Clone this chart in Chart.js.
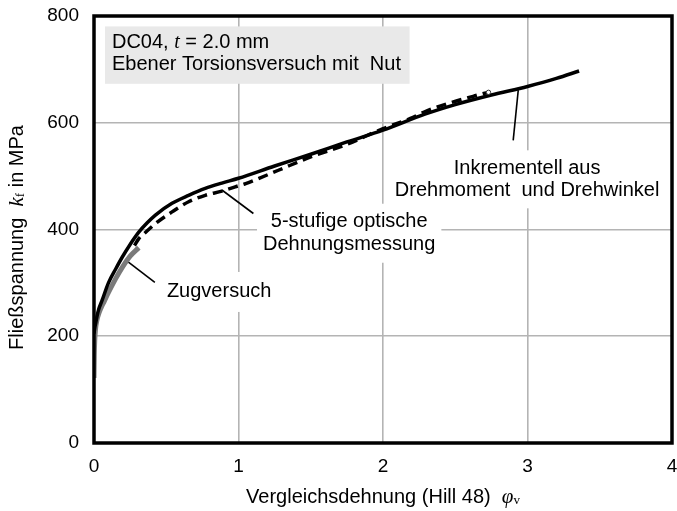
<!DOCTYPE html>
<html>
<head>
<meta charset="utf-8">
<script src="https://cdn.jsdelivr.net/npm/chart.js@4.4.1/dist/chart.umd.min.js"></script>
<style>
  html, body { margin: 0; padding: 0; background: #fff; overflow: hidden; }
  #wrap { width: 677px; height: 511px; position: relative; }
</style>
</head>
<body>
<div id="wrap"><canvas id="c"></canvas></div>
<script>
// Axis ticks
const xTicks = [0, 1, 2, 3, 4];
const yTicks = [0, 200, 400, 600, 800];

// Incremental evaluation from torque and twist angle (solid)
const incStrain = [0, 0.005, 0.012, 0.03, 0.057, 0.1, 0.15, 0.195, 0.25, 0.31, 0.37, 0.425, 0.54, 0.655, 0.77, 0.885, 1.0, 1.25, 1.5, 1.75, 2.0, 2.29, 2.5, 2.75, 3.0, 3.2, 3.357];
const incStress = [205, 215, 225, 248, 268, 300, 326, 348, 372, 395, 413, 427, 449, 464, 477, 487, 496, 519, 541, 564, 586, 616, 634, 652, 668, 683, 697];

// Five-step optical strain measurement (dashed)
const optStrain = [0.28, 0.31, 0.35, 0.425, 0.54, 0.655, 0.77, 0.885, 0.977, 1.05, 1.276, 1.5, 1.736, 2.0, 2.19, 2.3, 2.45, 2.63, 2.73];
const optStress = [370, 383, 393, 411, 433, 452, 464, 472, 480, 486, 511, 536, 558, 589, 608, 622, 636, 650, 657];

// Tensile test (grey)
const tenStrain = [0, 0.002, 0.005, 0.01, 0.02, 0.035, 0.05, 0.07, 0.1, 0.15, 0.2, 0.25, 0.31];
const tenStress = [122, 165, 192, 212, 230, 244, 254, 265, 282, 308, 331, 350, 366];

const SANS = '"Liberation Sans", Arial, sans-serif';
const SERIF = '"Liberation Serif", "Times New Roman", serif';

function toPoints(xs, ys) { return xs.map((x, i) => ({ x: x, y: ys[i] })); }

// Draw a run of differently styled text pieces on one baseline
function drawRuns(ctx, runs, x, y, align) {
  let total = 0;
  runs.forEach(r => { ctx.font = r.font; r.w = ctx.measureText(r.t).width; total += r.w; });
  let cx = align === 'center' ? x - total / 2 : (align === 'right' ? x - total : x);
  runs.forEach(r => {
    ctx.font = r.font;
    ctx.textAlign = 'left';
    ctx.textBaseline = 'middle';
    ctx.fillText(r.t, cx, y + (r.dy || 0));
    cx += r.w;
  });
}

// Curve labels: leader line from/to (data units), text centre (data units)
const curveLabels = [
  { lines: ['Zugversuch'], from: [0.218, 343], to: [0.421, 301], at: [0.866, 283], gap: 22, pad: [6, 20] },
  { lines: ['5-stufige optische', 'Dehnungsmessung'], from: [0.885, 474], to: [1.103, 430], at: [1.766, 393], gap: 23, pad: [6, 18] },
  { lines: ['Inkrementell aus', 'Drehmoment  und Drehwinkel'], from: [2.936, 661], to: [2.901, 567], at: [2.997, 494], gap: 22, pad: [6, 18] }
];

const decorations = {
  id: 'decorations',
  beforeDatasetsDraw(chart) {
    const ctx = chart.ctx, xs = chart.scales.x, ys = chart.scales.y;
    ctx.save();
    // info box
    const bx = xs.getPixelForValue(0.076), by = ys.getPixelForValue(780.5);
    const bx2 = xs.getPixelForValue(2.184), by2 = ys.getPixelForValue(673);
    ctx.fillStyle = '#e9e9e9';
    ctx.fillRect(bx, by, bx2 - bx, by2 - by);
    ctx.fillStyle = '#000';
    drawRuns(ctx, [
      { t: 'DC04, ', font: '20px ' + SANS },
      { t: 't', font: 'italic 20px ' + SERIF },
      { t: ' = 2.0 mm', font: '20px ' + SANS }
    ], bx + 7, ys.getPixelForValue(750), 'left');
    drawRuns(ctx, [{ t: 'Ebener Torsionsversuch mit  Nut', font: '20px ' + SANS }], bx + 7, ys.getPixelForValue(709), 'left');

    // curve labels on white patches
    ctx.font = '20px ' + SANS;
    curveLabels.forEach(l => {
      const cx = xs.getPixelForValue(l.at[0]);
      const cy = ys.getPixelForValue(l.at[1]);
      const n = l.lines.length;
      let w = 0;
      l.lines.forEach(s => { w = Math.max(w, ctx.measureText(s).width); });
      const h = (n - 1) * l.gap;
      ctx.fillStyle = '#fff';
      ctx.fillRect(cx - w / 2 - l.pad[0], cy - h / 2 - l.pad[1], w + 2 * l.pad[0], h + 2 * l.pad[1]);
      ctx.fillStyle = '#000';
      ctx.textAlign = 'center';
      ctx.textBaseline = 'middle';
      l.lines.forEach((s, i) => ctx.fillText(s, cx, cy - h / 2 + i * l.gap));
      ctx.strokeStyle = '#000';
      ctx.lineWidth = 1.6;
      ctx.beginPath();
      ctx.moveTo(xs.getPixelForValue(l.from[0]), ys.getPixelForValue(l.from[1]));
      ctx.lineTo(xs.getPixelForValue(l.to[0]), ys.getPixelForValue(l.to[1]));
      ctx.stroke();
    });
    ctx.restore();
  },
  afterDraw(chart) {
    const ctx = chart.ctx, a = chart.chartArea;
    ctx.save();
    // frame around the plot area
    ctx.strokeStyle = '#000';
    ctx.lineWidth = 3.5;
    ctx.strokeRect(a.left, a.top, a.right - a.left, a.bottom - a.top);
    // axis titles
    ctx.fillStyle = '#000';
    drawRuns(ctx, [
      { t: 'Vergleichsdehnung (Hill 48)  ', font: '20px ' + SANS },
      { t: 'φ', font: 'italic 21px ' + SERIF },
      { t: 'v', font: '13px ' + SERIF, dy: 4 }
    ], (a.left + a.right) / 2, 497, 'center');
    ctx.translate(17, (a.top + a.bottom) / 2 + 8);
    ctx.rotate(-Math.PI / 2);
    drawRuns(ctx, [
      { t: 'Fließspannung  ', font: '20px ' + SANS },
      { t: 'k', font: 'italic 21px ' + SERIF },
      { t: 'f', font: '13px ' + SERIF, dy: 4 },
      { t: ' in MPa', font: '20px ' + SANS }
    ], 0, 0, 'center');
    ctx.restore();
  }
};

const endMarker = optStrain.length - 1;

new Chart(document.getElementById('c'), {
  type: 'line',
  data: {
    datasets: [
      {
        label: 'Inkrementell aus Drehmoment und Drehwinkel',
        data: toPoints(incStrain, incStress),
        borderColor: '#000', borderWidth: 3.5, pointRadius: 0,
        cubicInterpolationMode: 'monotone', order: 1
      },
      {
        label: '5-stufige optische Dehnungsmessung',
        data: toPoints(optStrain, optStress),
        borderColor: '#000', borderWidth: 3.5, borderDash: [10, 6],
        pointRadius: ctx => ctx.dataIndex === endMarker ? 2.2 : 0,
        pointBorderWidth: 1, pointBorderColor: '#333', pointBackgroundColor: '#fff',
        cubicInterpolationMode: 'monotone', order: 0
      },
      {
        label: 'Zugversuch',
        data: toPoints(tenStrain, tenStress),
        borderColor: '#7a7a7a', borderWidth: 5, pointRadius: 0,
        cubicInterpolationMode: 'monotone', order: 2
      }
    ]
  },
  options: {
    responsive: true,
    maintainAspectRatio: false,
    animation: false,
    events: [],
    layout: { padding: { left: 0, top: 16, right: 1, bottom: 0 } },
    plugins: { legend: { display: false }, tooltip: { enabled: false } },
    scales: {
      x: {
        type: 'linear', min: xTicks[0], max: xTicks[xTicks.length - 1],
        afterBuildTicks: s => { s.ticks = xTicks.map(v => ({ value: v })); },
        afterFit: s => { s.height = 68; s.paddingRight = 0; s.paddingLeft = 0; },
        grid: { color: '#b4b4b4', lineWidth: 1.6, drawTicks: false },
        border: { display: false },
        ticks: { color: '#000', padding: 12, font: { family: SANS, size: 19 }, maxRotation: 0 }
      },
      y: {
        type: 'linear', min: yTicks[0], max: yTicks[yTicks.length - 1],
        afterBuildTicks: s => { s.ticks = yTicks.map(v => ({ value: v })); },
        afterFit: s => { s.width = 94; s.paddingTop = 0; s.paddingBottom = 0; },
        grid: { color: '#b4b4b4', lineWidth: 1.6, drawTicks: false },
        border: { display: false },
        ticks: { color: '#000', padding: 15, font: { family: SANS, size: 19 } }
      }
    }
  },
  plugins: [decorations]
});
</script>
</body>
</html>
